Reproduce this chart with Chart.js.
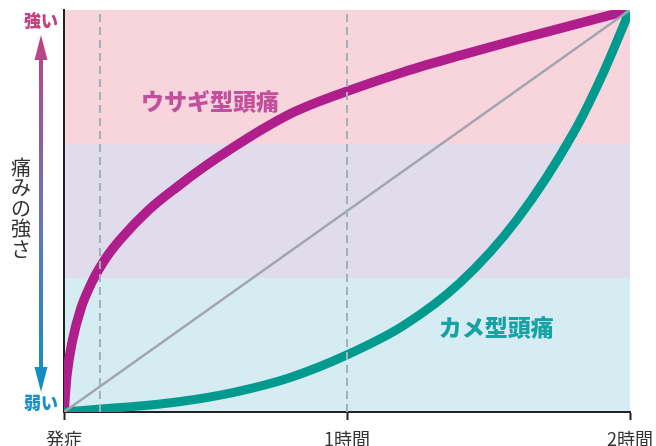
<!DOCTYPE html>
<html>
<head>
<meta charset="utf-8">
<script src="https://cdn.jsdelivr.net/npm/chart.js@4/dist/chart.umd.min.js"></script>
<style>
  html, body { margin: 0; padding: 0; background: #ffffff; }
  #wrap { width: 656px; height: 446px; position: relative; }
</style>
</head>
<body>
<div id="wrap"><canvas id="headacheChart" width="656" height="446"></canvas></div>
<script>
// time in hours since onset, pain 0 (weak) .. 1 (strong)
const usagiHours = [0, 0.01, 0.03, 0.06, 0.1, 0.15, 0.2, 0.3, 0.4, 0.5, 0.6, 0.7, 0.8, 0.9, 1.0, 1.2, 1.4, 1.6, 1.8, 2.0];
const usagiPain  = [0, 0.09, 0.178, 0.258, 0.325, 0.385, 0.43, 0.503, 0.56, 0.612, 0.659, 0.703, 0.742, 0.772, 0.798, 0.846, 0.887, 0.926, 0.963, 1.0];

const kameHours = [0, 0.2, 0.4, 0.6, 0.8, 1.0, 1.2, 1.4, 1.6, 1.8, 1.9, 2.0];
const kamePain  = [0, 0.011, 0.025, 0.049, 0.086, 0.142, 0.215, 0.322, 0.478, 0.694, 0.835, 1.0];

const lineHours = [0, 2];
const linePain  = [0, 1];

const markerHours = [0.127, 1.0];

const bandEdges = [0, 1 / 3, 2 / 3, 1];
const bandColours = ['#d5ecf2', '#e0dcec', '#f8d5dc'];

const xTickValues = [0, 1, 2];
const xTickLabels = ['発症', '1時間', '2時間'];

const usagiLabel = 'ウサギ型頭痛';
const kameLabel = 'カメ型頭痛';

const JP_FONT = '"Noto Sans CJK JP", "Noto Sans", sans-serif';

function toPoints(xs, ys) {
    let pts = [];
    for (let i = 0; i < xs.length; i++) {
        pts.push({ x: xs[i], y: ys[i] });
    }
    return pts;
}

let datasets = [];

// dashed guide lines
for (let i = 0; i < markerHours.length; i++) {
    datasets.push({
        data: toPoints([markerHours[i], markerHours[i]], [0, 1]),
        borderColor: '#9db2b9',
        borderWidth: 2,
        borderDash: [8, 5],
        pointRadius: 0,
        clip: 0
    });
}

datasets.push({
    data: toPoints(lineHours, linePain),
    borderColor: '#a2a5b0',
    borderWidth: 2.5,
    pointRadius: 0,
    clip: 0
});

datasets.push({
    label: kameLabel,
    data: toPoints(kameHours, kamePain),
    borderColor: '#009a8e',
    borderWidth: 9,
    pointRadius: 0,
    cubicInterpolationMode: 'monotone',
    clip: 0
});

datasets.push({
    label: usagiLabel,
    data: toPoints(usagiHours, usagiPain),
    borderColor: '#b01e8c',
    borderWidth: 9.5,
    pointRadius: 0,
    cubicInterpolationMode: 'monotone',
    clip: 0
});

// background bands + left side decorations
const decorPlugin = {
    id: 'decor',
    beforeDraw(chart) {
        const ctx = chart.ctx;
        const xs = chart.scales.x;
        const ys = chart.scales.y;
        ctx.save();
        for (let i = 0; i < bandColours.length; i++) {
            let yTop = ys.getPixelForValue(bandEdges[i + 1]);
            let yBot = ys.getPixelForValue(bandEdges[i]);
            ctx.fillStyle = bandColours[i];
            ctx.fillRect(xs.left, yTop, xs.right - xs.left, yBot - yTop);
        }
        ctx.restore();
    },
    afterDraw(chart) {
        const ctx = chart.ctx;
        const area = chart.chartArea;
        const ys = chart.scales.y;
        ctx.save();

        // curve names
        const opts = chart.options.plugins.decor;
        ctx.textAlign = 'center';
        ctx.textBaseline = 'middle';
        for (let i = 0; i < opts.labels.length; i++) {
            let lab = opts.labels[i];
            ctx.font = '900 23px ' + JP_FONT;
            ctx.fillStyle = lab.colour;
            ctx.fillText(lab.text, chart.scales.x.getPixelForValue(lab.at[0]), ys.getPixelForValue(lab.at[1]));
        }

        // strong / weak
        const ax = 41;
        ctx.font = '900 17px ' + JP_FONT;
        ctx.fillStyle = '#c5407e';
        ctx.fillText('強い', ax, ys.getPixelForValue(1) + 11);
        ctx.fillStyle = '#1a8fc5';
        ctx.fillText('弱い', ax, ys.getPixelForValue(0) - 9);

        // gradient arrow
        const topTip = area.top + 25;
        const botTip = area.bottom - 20;
        let grad = ctx.createLinearGradient(0, topTip, 0, botTip);
        grad.addColorStop(0, '#c0417f');
        grad.addColorStop(0.5, '#6a74b6');
        grad.addColorStop(1, '#0a90c6');
        ctx.fillStyle = grad;
        ctx.fillRect(ax - 2, topTip + 20, 4, botTip - topTip - 40);
        ctx.beginPath();
        ctx.moveTo(ax, topTip);
        ctx.lineTo(ax + 6.5, topTip + 25);
        ctx.lineTo(ax - 6.5, topTip + 25);
        ctx.closePath();
        ctx.fill();
        ctx.beginPath();
        ctx.moveTo(ax, botTip);
        ctx.lineTo(ax + 6.5, botTip - 25);
        ctx.lineTo(ax - 6.5, botTip - 25);
        ctx.closePath();
        ctx.fill();

        // vertical axis title, upright characters
        const title = '痛みの強さ';
        ctx.font = '20px ' + JP_FONT;
        ctx.fillStyle = '#333333';
        for (let i = 0; i < title.length; i++) {
            ctx.fillText(title[i], 21, 167 + i * 20.5);
        }
        ctx.restore();
    }
};

let config = {
    type: 'line',
    data: { datasets: datasets },
    options: {
        responsive: false,
        animation: false,
        devicePixelRatio: 1,
        layout: { padding: { top: 10, right: 26, left: 0, bottom: 0 } },
        plugins: {
            legend: { display: false },
            tooltip: { enabled: false },
            decor: {
                labels: [
                    { text: usagiLabel, at: [0.516, 0.774], colour: '#c2519d' },
                    { text: kameLabel, at: [1.527, 0.211], colour: '#17a3a6' }
                ]
            }
        },
        scales: {
            x: {
                type: 'linear',
                min: 0,
                max: 2,
                afterFit(scale) {
                    scale.height = 34;
                    // labels may hang over the plot edges, keep the plot fixed
                    scale.paddingLeft = 0;
                    scale.paddingRight = 0;
                },
                afterBuildTicks(scale) {
                    scale.ticks = xTickValues.map(v => ({ value: v }));
                },
                grid: {
                    drawOnChartArea: false,
                    drawTicks: true,
                    tickLength: 8,
                    tickColor: '#222222',
                    tickWidth: 2
                },
                border: { display: true, color: '#222222', width: 2 },
                ticks: {
                    padding: 8,
                    maxRotation: 0,
                    autoSkip: false,
                    color: '#333333',
                    font: { family: JP_FONT, size: 18 },
                    callback: function (value) {
                        let idx = xTickValues.indexOf(value);
                        return idx >= 0 ? xTickLabels[idx] : '';
                    }
                }
            },
            y: {
                type: 'linear',
                min: 0,
                max: 1,
                afterFit(scale) { scale.width = 64; },
                grid: { display: false },
                border: { display: true, color: '#222222', width: 2 },
                ticks: { display: false }
            }
        }
    },
    plugins: [decorPlugin]
};

let headacheChart = new Chart(
    document.getElementById('headacheChart'),
    config
);
</script>
</body>
</html>
